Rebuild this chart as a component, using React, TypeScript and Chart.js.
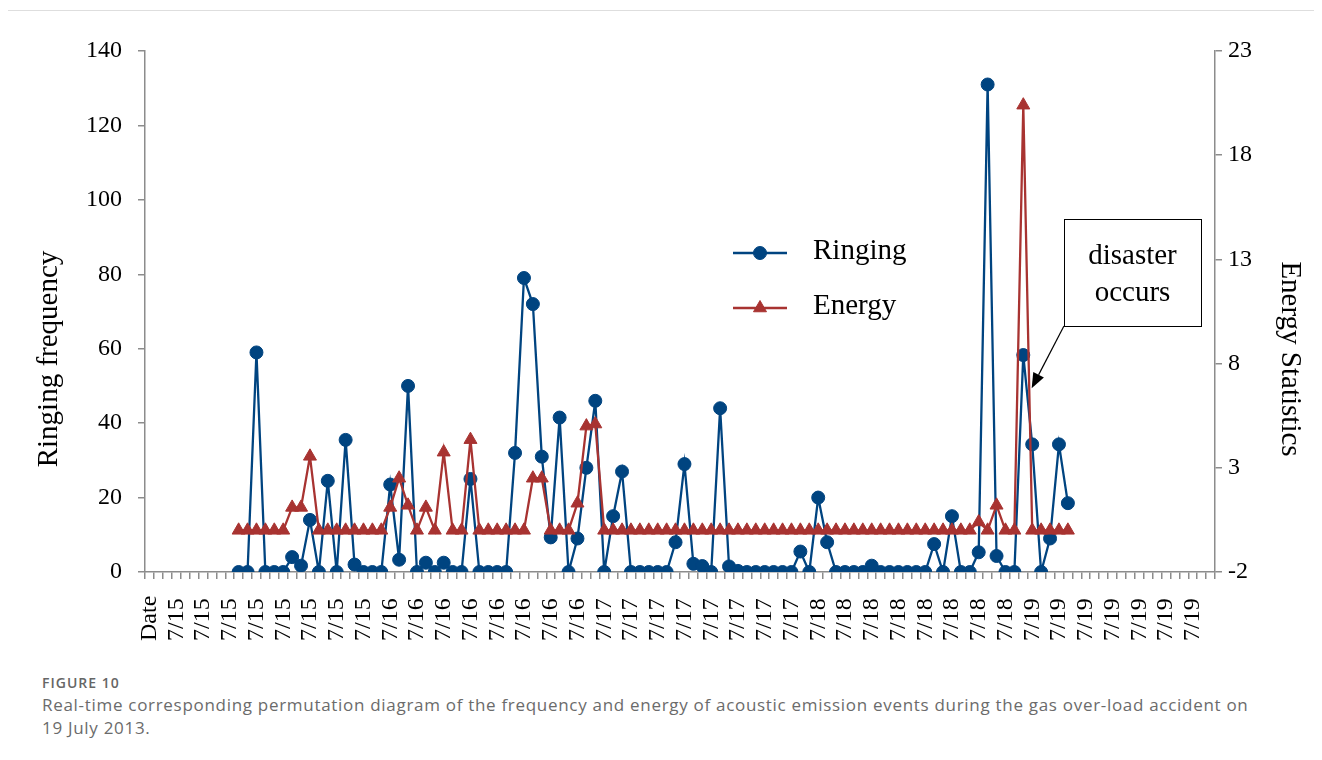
import React, { useEffect, useRef } from 'react';
import { Chart, registerables } from 'chart.js';

Chart.register(...registerables);

// ---------- data ----------
const tickLabels: string[] = [
  'Date',
  '7/15', '7/15', '7/15', '7/15', '7/15', '7/15', '7/15', '7/15',
  '7/16', '7/16', '7/16', '7/16', '7/16', '7/16', '7/16', '7/16',
  '7/17', '7/17', '7/17', '7/17', '7/17', '7/17', '7/17', '7/17',
  '7/18', '7/18', '7/18', '7/18', '7/18', '7/18', '7/18', '7/18',
  '7/19', '7/19', '7/19', '7/19', '7/19', '7/19', '7/19',
];
const categoryCount = 120;
const labelEvery = 3;
const firstDataIndex = 10;

const ringingValues: number[] = [
  0, 0, 59, 0, 0, 0, 4, 1.7, 14, 0,
  24.5, 0, 35.5, 2, 0, 0, 0, 23.5, 3.3, 50,
  0, 2.5, 0, 2.5, 0, 0, 25, 0, 0, 0,
  0, 32, 79, 72, 31, 9.3, 41.5, 0, 9, 28,
  46, 0, 15, 27, 0, 0, 0, 0, 0, 8,
  29, 2.2, 1.6, 0, 44, 1.5, 0.3, 0, 0, 0,
  0, 0, 0, 5.5, 0, 20, 8, 0, 0, 0,
  0, 1.7, 0, 0, 0, 0, 0, 0, 7.5, 0,
  15, 0, 0, 5.3, 131, 4.3, 0, 0, 58.3, 34.3,
  0, 9, 34.3, 18.5,
];

const energyValues: number[] = [
  0, 0, 0, 0, 0, 0, 1.1, 1.1, 3.55, 0,
  0, 0, 0, 0, 0, 0, 0, 1.1, 2.5, 1.2,
  0, 1.1, 0, 3.75, 0, 0, 4.35, 0, 0, 0,
  0, 0, 0, 2.5, 2.5, 0, 0, 0, 1.3, 5.0,
  5.1, 0, 0, 0, 0, 0, 0, 0, 0, 0,
  0, 0, 0, 0, 0, 0, 0, 0, 0, 0,
  0, 0, 0, 0, 0, 0, 0, 0, 0, 0,
  0, 0, 0, 0, 0, 0, 0, 0, 0, 0,
  0, 0, 0, 0.4, 0, 1.2, 0, 0, 20.4, 0,
  0, 0, 0, 0,
];

const leftAxis = { min: 0, max: 140, step: 20, title: 'Ringing frequency' };
const rightAxis = { min: -2, max: 23, step: 5, title: 'Energy Statistics' };
const seriesNames = ['Ringing', 'Energy'];
const annotationText = ['disaster', 'occurs'];
// annotation anchor in data units (category index, left-axis value)
const annotationBox = { x0: 102.56, x1: 117.93, yTop: 94.9, yBottom: 66.1 };
const arrowTip = { x: 98.94, y: 49.4 };

// ---------- style ----------
const BLUE = '#004480';
const RED = '#A83331';
const AXIS = '#8c8c8c';
const SERIF = '"Liberation Serif", "Times New Roman", serif';
const W = 1306;
const H = 660;
const AREA = { left: 137, right: 1207, top: 43, bottom: 564 };

const categories: string[] = Array.from({ length: categoryCount }, (_, i) =>
  i % labelEvery === 0 ? tickLabels[i / labelEvery] ?? '' : ''
);

const pad = (vals: number[]) =>
  Array.from({ length: categoryCount }, (_, i) => {
    const k = i - firstDataIndex;
    return k >= 0 && k < vals.length ? vals[k] : null;
  });

function drawMarker(ctx: CanvasRenderingContext2D, style: string, x: number, y: number, r: number, color: string) {
  ctx.save();
  ctx.fillStyle = color;
  ctx.strokeStyle = color;
  ctx.lineWidth = 1;
  ctx.beginPath();
  if (style === 'circle') {
    ctx.arc(x, y, r, 0, Math.PI * 2);
  } else {
    let rad = 0;
    ctx.moveTo(x + Math.sin(rad) * r, y - Math.cos(rad) * r);
    rad += (2 * Math.PI) / 3;
    ctx.lineTo(x + Math.sin(rad) * r, y - Math.cos(rad) * r);
    rad += (2 * Math.PI) / 3;
    ctx.lineTo(x + Math.sin(rad) * r, y - Math.cos(rad) * r);
    ctx.closePath();
  }
  ctx.fill();
  ctx.stroke();
  ctx.restore();
}

const overlayPlugin = {
  id: 'overlay',
  afterDraw(chart: any) {
    const { ctx, chartArea, scales } = chart;
    const xs = scales.x;
    const ys = scales.y;

    // axis titles
    ctx.save();
    ctx.font = `29px ${SERIF}`;
    ctx.fillStyle = '#000';
    ctx.textAlign = 'center';
    ctx.textBaseline = 'middle';
    const titleY = chartArea.top + 308;
    ctx.save();
    ctx.translate(41, titleY);
    ctx.rotate(-Math.PI / 2);
    ctx.fillText(leftAxis.title, 0, 0);
    ctx.restore();
    ctx.save();
    ctx.translate(1282, titleY);
    ctx.rotate(Math.PI / 2);
    ctx.fillText(rightAxis.title, 0, 0);
    ctx.restore();
    ctx.restore();

    // x-axis labels, rotated
    ctx.save();
    ctx.font = `24px ${SERIF}`;
    ctx.fillStyle = '#000';
    ctx.textAlign = 'left';
    ctx.textBaseline = 'middle';
    categories.forEach((lab, i) => {
      if (!lab) return;
      const px = xs.getPixelForValue(i);
      ctx.save();
      ctx.translate(px, chartArea.bottom + 69);
      ctx.rotate(-Math.PI / 2);
      ctx.fillText(lab, 0, 0);
      ctx.restore();
    });
    ctx.restore();

    // legend
    const legendRows = [202, 257];
    chart.data.datasets.forEach((ds: any, k: number) => {
      const y = chartArea.top + legendRows[k];
      const x0 = chartArea.left + 588;
      const x1 = chartArea.left + 642;
      ctx.save();
      ctx.strokeStyle = ds.borderColor;
      ctx.lineWidth = 2.5;
      ctx.beginPath();
      ctx.moveTo(x0, y);
      ctx.lineTo(x1, y);
      ctx.stroke();
      ctx.restore();
      drawMarker(ctx, ds.pointStyle, (x0 + x1) / 2, y, ds.pointRadius, ds.borderColor);
      ctx.save();
      ctx.font = `29px ${SERIF}`;
      ctx.fillStyle = '#000';
      ctx.textAlign = 'left';
      ctx.textBaseline = 'middle';
      ctx.fillText(seriesNames[k], chartArea.left + 668, y - 2);
      ctx.restore();
    });

    // annotation box + arrow
    const bx0 = xs.getPixelForValue(annotationBox.x0);
    const bx1 = xs.getPixelForValue(annotationBox.x1);
    const by0 = ys.getPixelForValue(annotationBox.yTop);
    const by1 = ys.getPixelForValue(annotationBox.yBottom);
    ctx.save();
    ctx.fillStyle = '#fff';
    ctx.fillRect(bx0, by0, bx1 - bx0, by1 - by0);
    ctx.strokeStyle = '#000';
    ctx.lineWidth = 1;
    ctx.strokeRect(Math.round(bx0) + 0.5, Math.round(by0) + 0.5, Math.round(bx1 - bx0), Math.round(by1 - by0));
    ctx.font = `29px ${SERIF}`;
    ctx.fillStyle = '#000';
    ctx.textAlign = 'center';
    ctx.textBaseline = 'middle';
    const cx = (bx0 + bx1) / 2;
    ctx.fillText(annotationText[0], cx, by0 + 38);
    ctx.fillText(annotationText[1], cx, by0 + 75);

    const tx = xs.getPixelForValue(arrowTip.x);
    const ty = ys.getPixelForValue(arrowTip.y);
    const ang = Math.atan2(ty - by1, tx - bx0);
    const headLen = 15;
    const headW = 6;
    const hx = tx - Math.cos(ang) * headLen;
    const hy = ty - Math.sin(ang) * headLen;
    ctx.beginPath();
    ctx.moveTo(bx0, by1);
    ctx.lineTo(hx, hy);
    ctx.lineWidth = 1.2;
    ctx.stroke();
    ctx.beginPath();
    ctx.moveTo(tx, ty);
    ctx.lineTo(hx - Math.sin(ang) * headW, hy + Math.cos(ang) * headW);
    ctx.lineTo(hx + Math.sin(ang) * headW, hy - Math.cos(ang) * headW);
    ctx.closePath();
    ctx.fill();
    ctx.restore();
  },
};

export default function App() {
  const canvasRef = useRef<HTMLCanvasElement | null>(null);

  useEffect(() => {
    const canvas = canvasRef.current;
    if (!canvas) return;
    const chart = new Chart(canvas, {
      type: 'line',
      data: {
        labels: categories,
        datasets: [
          {
            label: seriesNames[0],
            data: pad(ringingValues),
            yAxisID: 'y',
            borderColor: BLUE,
            backgroundColor: BLUE,
            borderWidth: 2.3,
            pointStyle: 'circle',
            pointRadius: 6.5,
            pointBorderWidth: 1,
            pointBackgroundColor: BLUE,
            pointBorderColor: BLUE,
            tension: 0,
            order: 1,
          } as any,
          {
            label: seriesNames[1],
            data: pad(energyValues),
            yAxisID: 'y1',
            borderColor: RED,
            backgroundColor: RED,
            borderWidth: 2.3,
            pointStyle: 'triangle',
            pointRadius: 7.5,
            pointBorderWidth: 1,
            pointBackgroundColor: RED,
            pointBorderColor: RED,
            tension: 0,
            order: 0,
          } as any,
        ],
      },
      options: {
        animation: false,
        responsive: false,
        maintainAspectRatio: false,
        events: [],
        layout: { padding: { top: AREA.top, left: 0, right: 0, bottom: 0 }, autoPadding: false },
        plugins: {
          legend: { display: false },
          tooltip: { enabled: false },
          title: { display: false },
        },
        scales: {
          x: {
            type: 'category',
            offset: true,
            grid: {
              display: true,
              offset: true,
              drawOnChartArea: false,
              drawTicks: true,
              tickLength: 7,
              color: AXIS,
              lineWidth: 1.5,
            },
            border: { display: true, color: AXIS, width: 1.5 },
            ticks: { display: false, autoSkip: false },
            afterFit: (s: any) => {
              s.height = H - AREA.bottom;
            },
          },
          y: {
            position: 'left',
            min: leftAxis.min,
            max: leftAxis.max,
            ticks: {
              stepSize: leftAxis.step,
              font: { family: SERIF, size: 24 },
              color: '#000',
              padding: 16,
            },
            grid: { drawOnChartArea: false, drawTicks: true, tickLength: 7, color: AXIS, lineWidth: 1.5 },
            border: { display: true, color: AXIS, width: 1.5 },
            title: { display: false },
            afterFit: (s: any) => {
              s.width = AREA.left;
            },
          },
          y1: {
            position: 'right',
            min: rightAxis.min,
            max: rightAxis.max,
            ticks: {
              stepSize: rightAxis.step,
              font: { family: SERIF, size: 24 },
              color: '#000',
              padding: 6,
            },
            grid: { drawOnChartArea: false, drawTicks: true, tickLength: 7, color: AXIS, lineWidth: 1.5 },
            border: { display: true, color: AXIS, width: 1.5 },
            title: { display: false },
            afterFit: (s: any) => {
              s.width = W - AREA.right;
            },
          },
        },
      } as any,
      plugins: [overlayPlugin],
    });
    return () => chart.destroy();
  }, []);

  return (
    <div style={{ position: 'relative', width: W, height: 744, background: '#fff' }}>
      <div style={{ position: 'absolute', left: 0, top: 2, width: W, height: 1, background: '#dedede' }} />
      <canvas
        ref={canvasRef}
        width={W}
        height={H}
        style={{ position: 'absolute', left: 0, top: 0, width: W, height: H, display: 'block' }}
      />
      <div
        style={{
          position: 'absolute',
          left: 34,
          top: 665,
          fontFamily: '"Open Sans", "Noto Sans", sans-serif',
          fontSize: 14,
          lineHeight: '20px',
          fontWeight: 600,
          letterSpacing: 1,
          color: '#666',
        }}
      >
        FIGURE 10
      </div>
      <div
        style={{
          position: 'absolute',
          left: 34,
          top: 685,
          width: 1270,
          fontFamily: '"Open Sans", "Noto Sans", sans-serif',
          fontSize: 17,
          lineHeight: '23px',
          letterSpacing: 0.7,
          color: '#6b6b6b',
          whiteSpace: 'nowrap',
        }}
      >
        Real-time corresponding permutation diagram of the frequency and energy of acoustic emission events during the gas over-load accident on
        <br />
        19 July 2013.
      </div>
    </div>
  );
}
